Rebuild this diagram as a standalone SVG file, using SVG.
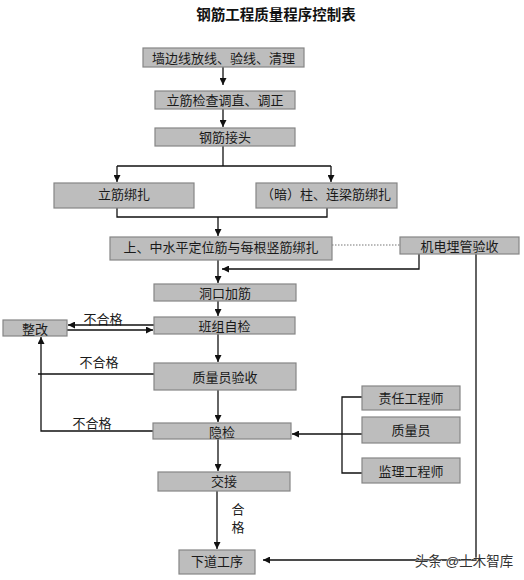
<svg xmlns="http://www.w3.org/2000/svg" width="524" height="580" viewBox="0 0 524 580">
<defs>
<style>
.b{fill:#bdbdbd;stroke:#858585;stroke-width:1.2}
.t{font-family:"Liberation Sans","Noto Sans CJK SC",sans-serif;font-size:13px;fill:#1a1a1a;text-anchor:middle;dominant-baseline:central}
.l{fill:none;stroke:#111;stroke-width:1.3}
.d{fill:none;stroke:#777;stroke-width:1.2;stroke-dasharray:1.5 1.5}
</style>
<marker id="a" viewBox="0 0 10 10" refX="10" refY="5" markerWidth="7" markerHeight="7" markerUnits="userSpaceOnUse" orient="auto"><path d="M0,0L10,5L0,10z" fill="#111"/></marker>
</defs>
<rect width="524" height="580" fill="#fff"/>
<text x="276" y="15" style="font-family:'Liberation Serif','Noto Sans CJK SC',serif;font-size:14.5px;font-weight:bold;fill:#111;text-anchor:middle;dominant-baseline:central">钢筋工程质量程序控制表</text>

<g id="connectors">
<path class="l" d="M223,67V85" marker-end="url(#a)"/>
<path class="l" d="M223,109V127" marker-end="url(#a)"/>
<path class="l" d="M223,146V166"/>
<path class="l" d="M117,166H331"/>
<path class="l" d="M117,166V182" marker-end="url(#a)"/>
<path class="l" d="M331,166V182" marker-end="url(#a)"/>
<path class="l" d="M117,208V217H327V208"/>
<path class="l" d="M218,217V236" marker-end="url(#a)"/>
<path class="d" d="M332,245H400"/>
<path class="l" d="M419,254V269H222" marker-end="url(#a)"/>
<path class="l" d="M218,260V283" marker-end="url(#a)"/>
<path class="l" d="M218,301V316" marker-end="url(#a)"/>
<path class="l" d="M154,325H68" marker-end="url(#a)"/>
<path class="l" d="M67,330H153" marker-end="url(#a)"/>
<path class="l" d="M218,334V362" marker-end="url(#a)"/>
<path class="l" d="M154,374H38"/>
<path class="l" d="M153,431H41V337" marker-end="url(#a)"/>
<path class="l" d="M218,390V422" marker-end="url(#a)"/>
<path class="l" d="M362,397H342V473H362"/>
<path class="l" d="M362,434H292" marker-end="url(#a)"/>
<path class="l" d="M218,439V471" marker-end="url(#a)"/>
<path class="l" d="M217,491V549" marker-end="url(#a)"/>
<path class="l" d="M476,254V560H263" marker-end="url(#a)"/>
<text class="t" x="103" y="319">不合格</text>
<text class="t" x="99" y="362">不合格</text>
<text class="t" x="92" y="423">不合格</text>
<text class="t" x="238" y="509">合</text>
<text class="t" x="238" y="527">格</text>
</g>

<g id="n1"><rect class="b" x="143" y="48" width="161" height="19"/><text class="t" x="223.5" y="58">墙边线放线、验线、清理</text></g>
<g id="n2"><rect class="b" x="155" y="91" width="140" height="18"/><text class="t" x="225" y="100.5">立筋检查调直、调正</text></g>
<g id="n3"><rect class="b" x="155" y="128" width="140" height="18"/><text class="t" x="225" y="137.5">钢筋接头</text></g>
<g id="n4"><rect class="b" x="54" y="183" width="140" height="25"/><text class="t" x="124" y="194">立筋绑扎</text></g>
<g id="n5"><rect class="b" x="256" y="183" width="141" height="25"/><text class="t" x="326" y="194">（暗）柱、连梁筋绑扎</text></g>
<g id="n6"><rect class="b" x="110" y="237" width="222" height="23"/><text class="t" x="221" y="247">上、中水平定位筋与每根竖筋绑扎</text></g>
<g id="n7"><rect class="b" x="400" y="237" width="119" height="17"/><text class="t" x="459.5" y="246">机电埋管验收</text></g>
<g id="n8"><rect class="b" x="154" y="284" width="142" height="17"/><text class="t" x="225" y="293">洞口加筋</text></g>
<g id="n9"><rect class="b" x="154" y="317" width="141" height="17"/><text class="t" x="224.5" y="326">班组自检</text></g>
<g id="n10"><rect class="b" x="3" y="320" width="64" height="16"/><text class="t" x="35" y="329">整改</text></g>
<g id="n11"><rect class="b" x="154" y="363" width="142" height="27"/><text class="t" x="225" y="377">质量员验收</text></g>
<g id="n12"><rect class="b" x="153" y="423" width="138" height="16"/><text class="t" x="222" y="432">隐检</text></g>
<g id="n13"><rect class="b" x="362" y="386" width="98" height="24"/><text class="t" x="411" y="398">责任工程师</text></g>
<g id="n14"><rect class="b" x="362" y="417" width="98" height="26"/><text class="t" x="411" y="430">质量员</text></g>
<g id="n15"><rect class="b" x="362" y="458" width="98" height="25"/><text class="t" x="411" y="471">监理工程师</text></g>
<g id="n16"><rect class="b" x="158" y="472" width="132" height="19"/><text class="t" x="224" y="481.5">交接</text></g>
<g id="n17"><rect class="b" x="179" y="550" width="76" height="24"/><text class="t" x="217" y="561">下道工序</text></g>

<text x="464" y="561" style="font-family:'Liberation Sans','Noto Sans CJK SC',sans-serif;font-size:13.5px;fill:#333;text-anchor:middle;dominant-baseline:central;stroke:#fff;stroke-width:0.6;paint-order:stroke">头条 @土木智库</text>
</svg>
